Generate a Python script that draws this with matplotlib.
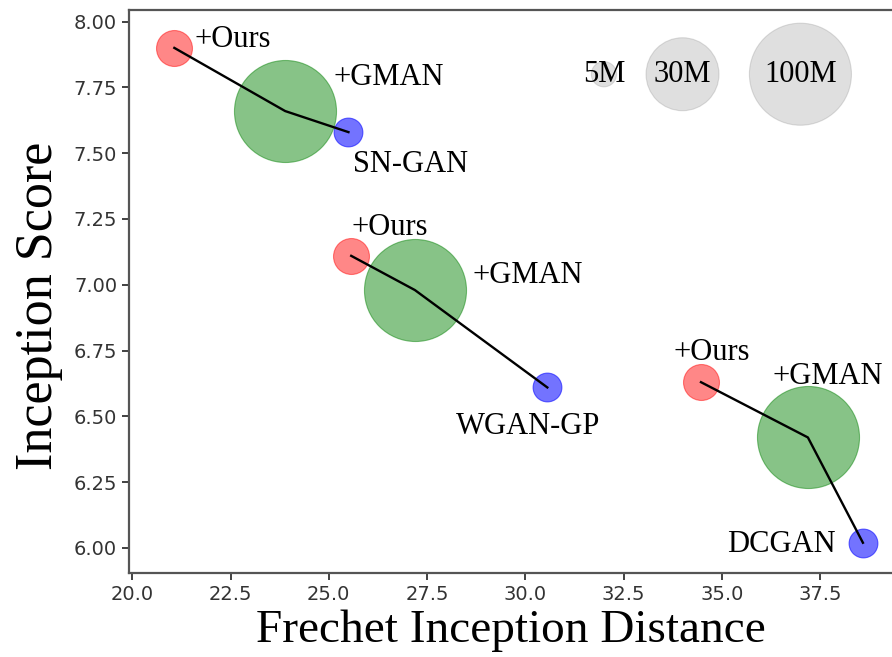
import matplotlib
matplotlib.use("Agg")
import matplotlib.pyplot as plt

# Data: each group is (+Ours, +GMAN, baseline)
groups = ["SN-GAN", "WGAN-GP", "DCGAN"]
fid_ours = [21.07, 25.57, 34.47]
is_ours = [7.90, 7.11, 6.63]
fid_gman = [23.89, 27.19, 37.19]
is_gman = [7.66, 6.98, 6.42]
fid_base = [25.50, 30.56, 38.59]
is_base = [7.58, 6.61, 6.02]

# bubble areas (marker size, points^2)
size_ours = 670
size_gman = 5400
size_base = 430

legend_labels = ["5M", "30M", "100M"]
legend_fid = [32.0, 34.0, 37.0]
legend_is = [7.80, 7.80, 7.80]
legend_sizes = [330, 2760, 5400]

fig = plt.figure(figsize=(8.92, 6.57), dpi=100)
ax = fig.add_axes([129/892, 1 - 573/657, 1 - 129/892, (573 - 10)/657])

serif = ["Liberation Serif", "DejaVu Serif"]

# legend bubbles
ax.scatter(legend_fid, legend_is, s=legend_sizes, color="gray", alpha=0.25,
           edgecolors="gray", linewidths=0.8, zorder=2)
for x, y, lab in zip(legend_fid, legend_is, legend_labels):
    ax.text(x, y, lab, ha="center", va="center", fontsize=22, family=serif, zorder=5)

ax.scatter(fid_gman, is_gman, s=size_gman, color="green", alpha=0.47,
           edgecolors="green", linewidths=0.8, zorder=2)
ax.scatter(fid_ours, is_ours, s=size_ours, color="red", alpha=0.47,
           edgecolors="red", linewidths=0.8, zorder=2)
ax.scatter(fid_base, is_base, s=size_base, color="blue", alpha=0.55,
           edgecolors="blue", linewidths=0.8, zorder=2)

for i in range(len(groups)):
    ax.plot([fid_ours[i], fid_gman[i], fid_base[i]],
            [is_ours[i], is_gman[i], is_base[i]], color="black", lw=1.7, zorder=3)

fs = 22
# text labels (left aligned, baseline)
ax.text(21.57, 7.905, "+Ours", fontsize=fs, family=serif)
ax.text(25.13, 7.76, "+GMAN", fontsize=fs, family=serif)
ax.text(25.61, 7.43, "SN-GAN", fontsize=fs, family=serif)
ax.text(25.58, 7.19, "+Ours", fontsize=fs, family=serif)
ax.text(28.65, 7.006, "+GMAN", fontsize=fs, family=serif)
ax.text(28.24, 6.433, "WGAN-GP", fontsize=fs, family=serif)
ax.text(33.77, 6.715, "+Ours", fontsize=fs, family=serif)
ax.text(36.28, 6.623, "+GMAN", fontsize=fs, family=serif)
ax.text(35.14, 5.984, "DCGAN", fontsize=fs, family=serif)

ax.set_xlim(19.916, 39.33)
ax.set_ylim(5.905, 8.044)
ax.set_xticks([20.0, 22.5, 25.0, 27.5, 30.0, 32.5, 35.0, 37.5])
ax.set_yticks([6.00, 6.25, 6.50, 6.75, 7.00, 7.25, 7.50, 7.75, 8.00])
ax.xaxis.set_major_formatter(matplotlib.ticker.FormatStrFormatter("%.1f"))
ax.yaxis.set_major_formatter(matplotlib.ticker.FormatStrFormatter("%.2f"))
ax.tick_params(labelsize=14, colors="#333333", length=5, width=1.3)

for name in ["left", "bottom", "top"]:
    ax.spines[name].set_color("#555555")
    ax.spines[name].set_linewidth(1.6)
ax.spines["right"].set_visible(False)

ax.set_xlabel("Frechet Inception Distance", fontsize=34, family=serif, labelpad=4)
ax.set_ylabel("Inception Score", fontsize=37.5, family=serif)
ax.yaxis.set_label_coords(-0.086, 0.474)

fig.savefig("out.png", dpi=100)
